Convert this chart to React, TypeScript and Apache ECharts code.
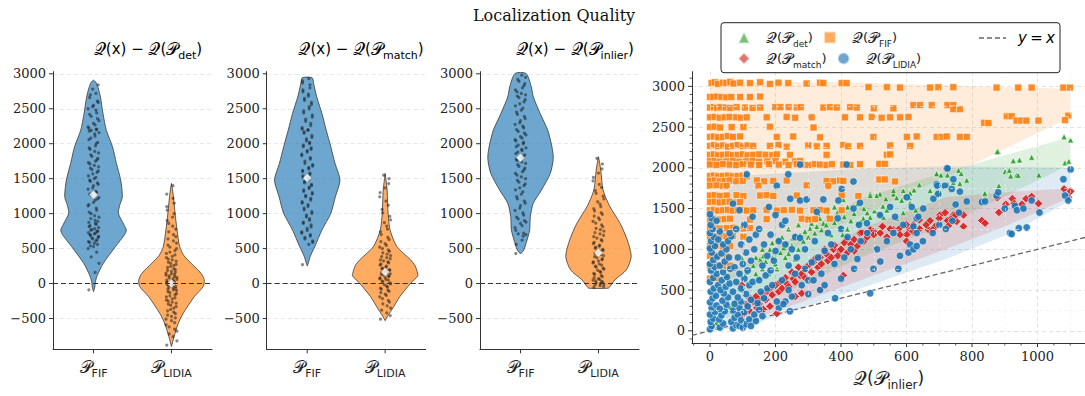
import React, { useEffect, useRef } from 'react';
import * as echarts from 'echarts';

// ---------------- data ----------------
const CATEGORIES = ['FIF', 'LIDIA'];
const CATEGORY_POS = [0, 1];
const PANEL_REFS = ['det', 'match', 'inlier'];
const VIOLIN_TICKS = [-500, 0, 500, 1000, 1500, 2000, 2500, 3000];
const SCATTER_X_TICKS = [0, 200, 400, 600, 800, 1000];
const SCATTER_Y_TICKS = [0, 500, 1000, 1500, 2000, 2500, 3000];
const SCATTER_X_MINOR = [-50, 50, 100, 150, 250, 300, 350, 450, 500, 550, 650, 700, 750, 850, 900, 950, 1050, 1100];
const SCATTER_Y_MINOR = [-100, 100, 200, 300, 400, 600, 700, 800, 900, 1100, 1200, 1300, 1400, 1600, 1700, 1800, 1900, 2100, 2200, 2300, 2400, 2600, 2700, 2800, 2900, 3100];
const SCATTER_X_MINOR_GRID = [100, 300, 500, 700, 900, 1100];
const SCATTER_Y_MINOR_GRID = [250, 750, 1250, 1750, 2250, 2750];

// violin density profiles: [value, relative density]
const P1_FIF_DENS = [[-115, 0], [-50, 0.04], [5, 0.05], [100, 0.1], [290, 0.3], [528, 0.67], [700, 0.95], [766, 1.0], [850, 0.92], [1004, 0.76], [1120, 0.8], [1242, 0.88], [1480, 0.83], [1718, 0.7], [1956, 0.58], [2195, 0.39], [2430, 0.29], [2670, 0.21], [2800, 0.14], [2880, 0.07], [2910, 0]];
const P1_LIDIA_DENS = [[-900, 0], [-757, 0.08], [-566, 0.21], [-424, 0.36], [-186, 0.7], [-43, 0.97], [52, 1.0], [148, 0.9], [290, 0.6], [400, 0.38], [528, 0.25], [766, 0.17], [1004, 0.11], [1242, 0.06], [1380, 0.02], [1433, 0]];
const P2_FIF_DENS = [[252, 0], [290, 0.03], [386, 0.09], [528, 0.23], [766, 0.45], [1004, 0.72], [1242, 0.86], [1480, 1.0], [1718, 0.85], [1956, 0.72], [2195, 0.58], [2432, 0.45], [2670, 0.29], [2850, 0.2], [2943, 0.15]];
const P2_LIDIA_DENS = [[-530, 0], [-470, 0.07], [-376, 0.2], [-186, 0.45], [5, 0.78], [110, 1.0], [148, 0.99], [250, 0.92], [338, 0.78], [528, 0.36], [766, 0.15], [1004, 0.09], [1338, 0.06], [1500, 0.02], [1575, 0]];
const P3_FIF_DENS = [[424, 0], [481, 0.1], [624, 0.2], [766, 0.28], [957, 0.3], [1147, 0.39], [1338, 0.64], [1576, 0.91], [1790, 1.0], [1956, 0.96], [2195, 0.83], [2432, 0.6], [2670, 0.39], [2813, 0.33], [3004, 0.17]];
const P3_LIDIA_DENS = [[-66, 0.3], [-43, 0.35], [52, 0.5], [195, 0.85], [386, 1.0], [624, 0.88], [862, 0.66], [1100, 0.35], [1338, 0.14], [1624, 0.07], [1814, 0]];

// strip (individual samples) values
const P1_FIF_PTS = [-90, 160, 290, 380, 450, 500, 530, 560, 590, 610, 640, 660, 690, 710, 730, 750, 770, 800, 830, 860, 890, 930, 970, 1020, 1080, 1130, 1190, 1230, 1260, 1300, 1350, 1400, 1440, 1480, 1520, 1570, 1610, 1650, 1690, 1730, 1770, 1820, 1870, 1920, 1970, 2020, 2080, 2140, 2180, 2200, 2220, 2270, 2330, 2390, 2440, 2500, 2550, 2610, 2660, 2720, 2780, 2840,
  540, 575, 600, 625, 655, 675, 700, 720, 745, 765, 785, 815, 845, 875, 905, 950, 1000, 1050, 1110, 1160, 1210, 1280, 1320, 1370, 1420, 1460, 1500, 1540, 1590, 1630, 1670, 1710, 1750, 1790, 1840, 1890, 1940, 2000, 2060, 2110, 2160, 2190, 2210, 2240, 2290, 2360, 2420, 2480, 2530, 2590, 2700];
const P1_LIDIA_PTS = [-880, -760, -680, -620, -560, -510, -470, -430, -390, -350, -310, -280, -250, -220, -190, -160, -130, -100, -80, -60, -40, -20, 0, 15, 30, 50, 70, 90, 110, 130, 150, 175, 200, 230, 260, 290, 320, 350, 390, 430, 470, 520, 580, 640, 700, 780, 860, 950, 1050, 1150, 1280, 1400,
  -820, -720, -650, -590, -530, -490, -450, -410, -370, -330, -295, -265, -235, -205, -175, -145, -115, -90, -70, -50, -30, -10, 5, 20, 40, 60, 80, 100, 120, 140, 165, 190, 215, 245, 275, 305, 340, 370, 410, 450, 500, 550, 610, 670, 740, 820, 900, 1000, 1100, 1220];
const P2_FIF_PTS = [270, 560, 610, 660, 700, 740, 790, 840, 880, 930, 980, 1030, 1080, 1130, 1170, 1220, 1260, 1300, 1340, 1380, 1420, 1460, 1500, 1540, 1580, 1620, 1660, 1700, 1750, 1800, 1850, 1900, 1940, 1980, 2020, 2070, 2120, 2170, 2200, 2210, 2260, 2320, 2380, 2440, 2500, 2560, 2620, 2680, 2740, 2800, 2870, 2930,
  590, 640, 680, 720, 760, 810, 860, 905, 955, 1005, 1055, 1105, 1150, 1195, 1240, 1280, 1320, 1360, 1400, 1440, 1480, 1520, 1560, 1600, 1640, 1680, 1720, 1780, 1830, 1880, 1920, 1960, 2000, 2040, 2090, 2150, 2190, 2230, 2290, 2350, 2410, 2470, 2530, 2590, 2650, 2710, 2770, 2840, 2900];
const P2_LIDIA_PTS = [-510, -420, -350, -290, -240, -190, -150, -110, -80, -50, -20, 10, 40, 60, 80, 100, 120, 140, 160, 180, 200, 220, 250, 280, 310, 340, 370, 400, 440, 480, 520, 570, 630, 700, 780, 870, 960, 1060, 1180, 1300, 1430, 1550,
  -460, -380, -320, -265, -215, -170, -130, -95, -65, -35, -5, 25, 50, 70, 90, 110, 130, 150, 170, 190, 210, 235, 265, 295, 325, 355, 385, 420, 460, 500, 545, 600, 660, 740, 820, 910, 1010, 1120, 1240, 1370, 1500];
const P3_FIF_PTS = [430, 620, 700, 710, 720, 800, 860, 900, 950, 1010, 1080, 1150, 1210, 1280, 1340, 1400, 1450, 1500, 1550, 1600, 1650, 1700, 1740, 1780, 1820, 1860, 1900, 1940, 1980, 2020, 2060, 2100, 2150, 2200, 2250, 2300, 2360, 2420, 2480, 2540, 2600, 2660, 2700, 2740, 2800, 2860, 2920, 2980,
  560, 680, 760, 830, 880, 925, 980, 1045, 1115, 1180, 1245, 1310, 1370, 1425, 1475, 1525, 1575, 1625, 1675, 1720, 1760, 1800, 1840, 1880, 1920, 1960, 2000, 2040, 2080, 2125, 2175, 2225, 2275, 2330, 2390, 2450, 2510, 2570, 2630, 2680, 2720, 2770, 2830, 2890, 2950];
const P3_LIDIA_PTS = [-55, -30, -10, 10, 30, 50, 70, 100, 130, 160, 190, 220, 250, 280, 310, 340, 370, 400, 430, 460, 490, 520, 550, 590, 630, 670, 710, 750, 790, 840, 890, 940, 990, 1040, 1100, 1170, 1250, 1330, 1420, 1520, 1640, 1790,
  -45, -20, 0, 20, 40, 60, 85, 115, 145, 175, 205, 235, 265, 295, 325, 355, 385, 415, 445, 475, 505, 535, 570, 610, 650, 690, 730, 770, 815, 865, 915, 965, 1015, 1070, 1135, 1210, 1290, 1375, 1470, 1580, 1710];
const MEDIANS = [[1270, 0], [1510, 165], [1800, 440]];
const JITTER = [-0.06, 0.02, 0.07, -0.03, 0.04, -0.07, 0.0, 0.05, -0.05, 0.03, -0.01, 0.06, -0.04, 0.01, -0.065, 0.045, -0.02, 0.065, -0.045, 0.025, 0.055, -0.035, 0.015, -0.055, 0.035];

// scatter: Q(P_inlier) vs Q(P_x)
const FIF_POINTS = [
  [5, 3040], [15, 3050], [25, 3030], [40, 3045], [50, 3040], [62, 3055], [72, 3035], [92, 3045], [122, 3040], [153, 3050], [183, 3030], [209, 3045], [239, 3040], [295, 3035], [336, 3045], [346, 3040], [402, 3040], [417, 3040],
  [484, 2990], [540, 2990], [580, 2985], [672, 2985], [697, 2990], [743, 2990], [875, 2985], [941, 2985], [982, 2985], [1079, 2985], [1099, 2985],
  [0, 2870], [10, 2870], [22, 2875], [35, 2870], [50, 2865], [65, 2870], [92, 2870], [122, 2870], [153, 2875],
  [0, 2740], [12, 2745], [22, 2735], [32, 2745], [48, 2740], [62, 2735], [81, 2745], [107, 2740], [130, 2735], [153, 2740], [199, 2745], [215, 2745], [240, 2745], [265, 2740], [277, 2745], [346, 2740], [366, 2745], [387, 2740], [428, 2745], [448, 2740], [500, 2730], [560, 2730], [621, 2770], [641, 2770], [677, 2770], [725, 2770], [743, 2770], [743, 2720], [763, 2720],
  [0, 2620], [15, 2625], [30, 2615], [45, 2620], [60, 2625], [80, 2620], [95, 2615], [112, 2620], [173, 2620], [234, 2625], [260, 2615], [310, 2620], [412, 2620], [458, 2620], [494, 2625], [524, 2615], [550, 2620], [580, 2620], [606, 2625], [906, 2633], [921, 2633], [1094, 2640],
  [837, 2553], [850, 2550], [936, 2580], [951, 2580], [966, 2580], [1003, 2580], [1084, 2585],
  [0, 2500], [15, 2505], [31, 2495], [66, 2500], [102, 2500], [183, 2505], [316, 2495],
  [0, 2380], [12, 2385], [25, 2375], [40, 2380], [55, 2390], [70, 2380], [92, 2385], [204, 2380], [254, 2385], [336, 2375], [499, 2380], [601, 2380], [631, 2385], [692, 2380], [707, 2380], [723, 2385], [763, 2380], [784, 2380],
  [0, 2270], [12, 2280], [25, 2265], [40, 2275], [55, 2260], [70, 2270], [85, 2280], [100, 2265], [115, 2275], [132, 2270], [183, 2270], [209, 2280], [234, 2260], [300, 2275], [326, 2265], [356, 2270], [407, 2280], [422, 2265], [458, 2270], [550, 2275], [611, 2270],
  [0, 2160], [12, 2165], [25, 2155], [40, 2160], [55, 2165], [70, 2155], [85, 2160], [100, 2165], [115, 2155], [132, 2160], [150, 2165], [170, 2160], [190, 2155], [204, 2165], [244, 2160], [356, 2160], [540, 2160], [550, 2165],
  [0, 2080], [15, 2085], [30, 2075], [50, 2080], [70, 2085], [90, 2075], [110, 2080], [130, 2085], [150, 2075], [175, 2080], [200, 2085], [230, 2075], [260, 2080], [275, 2085],
  [0, 2040], [20, 2035], [40, 2045], [60, 2040], [80, 2035], [100, 2045], [125, 2040], [150, 2035], [180, 2045], [210, 2040], [240, 2035], [265, 2045], [285, 2040], [300, 2035], [320, 2045], [336, 2040], [356, 2035], [372, 2045], [407, 2040], [428, 2035], [458, 2045], [517, 2049], [534, 2049],
  [0, 1900], [12, 1905], [25, 1895], [40, 1900], [55, 1905], [70, 1895], [85, 1900], [100, 1905], [112, 1895],
  [0, 1840], [15, 1845], [30, 1835], [45, 1840], [60, 1845], [80, 1835], [100, 1840], [143, 1845], [165, 1835], [193, 1840], [234, 1845], [356, 1840], [377, 1835], [397, 1845], [407, 1840], [517, 1857], [534, 1857], [565, 1833],
  [0, 1780], [20, 1785], [40, 1775], [51, 1780], [148, 1780], [295, 1785], [361, 1775],
  [0, 1660], [15, 1665], [30, 1655], [51, 1660], [81, 1665], [102, 1655], [153, 1660], [173, 1665], [193, 1655], [265, 1660], [402, 1665], [453, 1655],
  [0, 1580], [15, 1585], [30, 1575], [45, 1580], [60, 1585], [81, 1575], [92, 1580],
  [0, 1480], [12, 1485], [25, 1475], [40, 1480], [55, 1485], [70, 1475], [85, 1480], [100, 1485], [112, 1475], [132, 1480], [173, 1485], [204, 1475], [225, 1480], [250, 1485], [275, 1475], [316, 1480], [336, 1485], [356, 1475], [402, 1480],
  [0, 1370], [15, 1375], [30, 1365], [45, 1370], [61, 1375], [122, 1365], [173, 1370], [280, 1375], [300, 1365], [321, 1370], [366, 1375],
  [0, 1260], [15, 1265], [30, 1255], [51, 1260], [71, 1265], [102, 1255], [122, 1260],
  [0, 1160], [15, 1165], [30, 1155], [50, 1160], [70, 1165], [102, 1155],
  [0, 1040], [20, 1045], [40, 1035], [61, 1040], [0, 920], [20, 925], [51, 915], [0, 800], [20, 805], [41, 795], [61, 800], [0, 640], [20, 645],
];

const LIDIA_POINTS = [
  [0, 20], [5, 60], [2, 110], [10, 150], [0, 200], [15, 230], [5, 280], [20, 310], [0, 350], [8, 400], [18, 430], [2, 480], [12, 520], [25, 560], [0, 600], [10, 650], [20, 700], [3, 740], [15, 780], [0, 820], [10, 870], [22, 910], [5, 960], [0, 1010], [15, 1040], [3, 1100], [12, 1150], [0, 1200], [8, 1250], [2, 1300], [5, 1380], [0, 1430], [20, 1350], [30, 1220],
  [30, 40], [40, 90], [28, 140], [35, 190], [45, 240], [30, 270], [50, 320], [38, 370], [55, 410], [42, 460], [32, 500], [48, 540], [60, 580], [36, 620], [52, 660], [40, 720], [62, 760], [30, 800], [45, 850], [58, 900], [35, 950], [50, 1000], [40, 1060], [25, 1120], [55, 1100], [65, 1160],
  [70, 30], [80, 70], [65, 110], [90, 60], [75, 160], [100, 40], [85, 200], [95, 130], [110, 80], [70, 250], [90, 280], [105, 230], [120, 140], [75, 330], [95, 360], [115, 300], [85, 410], [110, 450], [125, 380], [70, 480], [95, 520], [120, 560], [80, 600], [105, 640], [130, 600], [90, 700], [115, 740], [75, 780], [100, 820], [125, 860], [85, 900], [110, 960], [135, 1000], [95, 1060], [120, 1120], [140, 1180], [80, 1250], [105, 1300], [112, 1920], [60, 1200], [90, 1480], [70, 1560], [130, 1400],
  [125, 60], [140, 120], [135, 200], [150, 260], [160, 180], [145, 340], [165, 400], [155, 480], [175, 520], [150, 620], [170, 680], [190, 560], [185, 740], [160, 800], [195, 860], [175, 920], [200, 980], [165, 1060], [210, 1100], [185, 1180], [150, 1250], [220, 1300], [200, 1420], [230, 1350], [204, 1780], [239, 1920], [245, 1620], [180, 1520],
  [210, 280], [230, 360], [244, 240], [224, 328], [204, 360], [250, 420], [240, 500], [220, 620], [260, 700], [240, 800], [265, 900], [250, 1000], [230, 1060], [260, 1150],
  [275, 1140], [275, 1600], [295, 1612], [275, 2040], [326, 1460], [346, 1612], [392, 1600], [402, 1740], [417, 2040], [438, 1832], [438, 1500], [458, 1572], [455, 1300], [479, 1320], [280, 560], [300, 620], [316, 620], [336, 500], [382, 400], [290, 760], [310, 840], [330, 900], [350, 980], [370, 1060], [290, 1000], [320, 1100], [360, 1200], [400, 1250], [340, 700], [380, 820], [410, 900], [430, 1000], [300, 450], [350, 560], [400, 640], [440, 760], [420, 1150], [390, 1380], [460, 1100], [480, 1200], [450, 880],
  [489, 460], [499, 760], [519, 1420], [550, 1520], [565, 1400], [575, 760], [580, 920], [601, 1640], [606, 960], [611, 1060], [616, 1520], [621, 1280], [621, 1000], [631, 1380], [631, 1200], [631, 1040], [636, 1400], [651, 1500], [682, 1620], [692, 1800], [697, 1680], [717, 1780], [723, 1992], [738, 1740], [743, 1860], [763, 1708], [784, 1588], [510, 1000], [540, 1100], [560, 1200], [590, 1300], [520, 850], [650, 1100], [700, 1300], [720, 1250], [740, 1350], [760, 1450], [680, 1200], [750, 1550], [725, 1993], [694, 1781],
  [830, 1580], [840, 1588], [875, 1660], [916, 1200], [921, 1188], [931, 1532], [937, 1480], [943, 1260], [957, 1500], [967, 1268], [982, 1600], [1006, 1452], [1079, 1860], [1084, 1660], [1094, 1600], [1101, 1980], [880, 1700], [900, 1500],
];

const DET_POINTS = [
  [51, 680], [97, 900], [112, 720], [132, 800], [153, 880], [163, 920], [183, 1000], [209, 1120], [234, 1080], [254, 1140], [275, 1180], [305, 1260], [326, 1280], [346, 1320], [377, 1380], [407, 1612], [489, 1688], [519, 1680], [560, 1680], [611, 1700], [692, 1920], [880, 2200], [901, 1960], [840, 1680],
  [877, 2200], [926, 2088], [945, 2097], [982, 2130], [1081, 2382], [1101, 2341], [1084, 2061], [1096, 2081], [901, 1953], [914, 1969], [936, 1909], [941, 1909], [918, 1901], [1004, 1913], [882, 1781], [839, 1689], [692, 1929], [705, 1913], [725, 1913], [759, 1969], [767, 1929], [784, 1849], [743, 1821], [763, 1809], [726, 1801], [639, 1793], [623, 1729], [672, 1721], [690, 1701], [611, 1689], [590, 1721], [560, 1721], [593, 1649], [570, 1633], [609, 1633], [611, 1569], [585, 1601], [537, 1621], [509, 1661], [489, 1661], [528, 1529], [502, 1473], [519, 1441], [540, 1481], [480, 1449], [468, 1381], [461, 1341], [489, 1393], [530, 1393], [628, 1481], [590, 1449], [570, 1381],
  [120, 600], [140, 700], [160, 760], [170, 850], [190, 900], [200, 820], [215, 960], [225, 1020], [240, 950], [250, 1050], [260, 1180], [270, 1000], [285, 1100], [290, 1220], [300, 1150], [310, 1320], [320, 1200], [335, 1380], [340, 1240], [355, 1300], [360, 1420], [370, 1180], [380, 1330], [390, 1460], [400, 1280], [410, 1400], [420, 1520], [430, 1350], [440, 1440], [450, 1560], [380, 1520], [360, 1500], [330, 1440], [300, 1400], [270, 1300], [240, 1250], [220, 1150], [190, 1080], [160, 1000], [140, 900], [420, 1250], [450, 1320], [470, 1500], [405, 1180], [260, 880], [230, 900], [205, 760], [180, 700], [150, 650], [100, 500], [80, 380], [60, 300], [20, 100], [40, 250],
];

const MATCH_POINTS = [
  [97, 560], [122, 400], [132, 360], [143, 280], [153, 400], [163, 260], [173, 480], [183, 520], [183, 300], [204, 212], [214, 600], [234, 580], [254, 640], [275, 680], [295, 760], [316, 840], [336, 900], [336, 500], [356, 940], [377, 1000], [397, 980], [407, 680], [417, 1120], [458, 1200], [489, 1240], [524, 1280], [672, 1352], [743, 1420],
  [877, 1633], [882, 1453], [903, 1553], [923, 1621], [929, 1561], [952, 1553], [965, 1621], [982, 1649], [1003, 1561], [1081, 1741], [1101, 1713], [1094, 1640], [830, 1353], [840, 1321], [702, 1421], [718, 1449], [725, 1353], [738, 1381], [763, 1449], [774, 1421], [753, 1341], [728, 1289], [687, 1281], [667, 1241], [639, 1361], [621, 1301], [611, 1241], [601, 1181], [560, 1241], [578, 1253], [527, 1281], [499, 1221], [480, 1201], [463, 1209], [774, 1281],
  [100, 200], [110, 320], [120, 250], [140, 420], [150, 330], [160, 450], [170, 380], [190, 440], [200, 560], [210, 480], [220, 520], [230, 650], [240, 540], [250, 720], [260, 600], [270, 780], [280, 700], [290, 650], [300, 800], [310, 720], [320, 880], [330, 780], [340, 820], [350, 1000], [360, 860], [370, 900], [380, 1050], [390, 920], [400, 1000], [410, 1080], [420, 960], [430, 1060], [440, 1120], [450, 1040], [470, 1100], [480, 1150], [500, 1180], [520, 1200], [540, 1150], [550, 1250], [580, 1180], [600, 1300], [620, 1220], [640, 1250], [660, 1300], [680, 1240], [700, 1380], [600, 1100], [440, 980], [280, 460], [260, 420], [750, 1420],
];

// envelope bands: x, lower, upper
const BAND_FIF_X = [0, 400, 800, 1100];
const BAND_FIF_LOW = [500, 1300, 2040, 2620];
const BAND_FIF_HIGH = [3055, 3055, 3000, 2970];
const BAND_LIDIA_X = [0, 100, 120, 460, 720, 920, 1100];
const BAND_LIDIA_LOW = [0, 30, 60, 520, 880, 1200, 1600];
const BAND_LIDIA_HIGH = [1500, 1900, 1910, 1990, 2020, 2010, 2000];
const BAND_DET_X = [50, 300, 460, 720, 1100];
const BAND_DET_LOW = [150, 600, 900, 1300, 2040];
const BAND_DET_HIGH = [700, 1250, 1620, 1950, 2380];
const BAND_MATCH_X = [100, 300, 460, 720, 900, 1100];
const BAND_MATCH_LOW = [100, 380, 620, 1000, 1280, 1640];
const BAND_MATCH_HIGH = [350, 850, 1250, 1640, 1700, 1750];
const IDENTITY_LINE = [[-55, -55], [1145, 1145]];

// ---------------- styling ----------------
const Q = '\u{1D4AC}';
const P = '\u{1D4AB}';
const SERIF = 'DejaVu Serif';
const SANS = 'DejaVu Sans';
const INK = '#222';
const BLUE = '#1f77b4';
const ORANGE = '#ff7f0e';
const GREEN = '#2ca02c';
const RED = '#d62728';

const mathRich = (base: number) => ({
  q: { fontFamily: SANS, fontSize: base + 2, lineHeight: base + 9, color: INK },
  t: { fontFamily: SANS, fontSize: base, lineHeight: base + 9, color: INK },
  s: { fontFamily: SANS, fontSize: Math.round(base * 0.72), lineHeight: base + 9, verticalAlign: 'bottom', color: INK },
  i: { fontFamily: SANS, fontStyle: 'italic', fontSize: base, lineHeight: base + 9, color: INK },
  sp: { width: 11 },
});
const qp = (sub: string) => `{q|${Q}}{t|(}{q|${P}}{s|${sub}}{t|)}`;
const numLabel = (v: number) => (v < 0 ? '\u2212' + Math.abs(v) : String(v));
const numLabelStyle = { fontFamily: SERIF, fontSize: 13, color: INK, showMinLabel: false, showMaxLabel: false, formatter: numLabel };
const splitStyle = (color: string) => ({ show: true, showMinLine: false, showMaxLine: false, lineStyle: { color, type: [4, 3], width: 0.8 } });

const V_LEFT = [53, 266.7, 480];
const V_W = 159;
const TOP = 71.7;
const H = 277.6;
const TITLE_CX = [148, 361, 575];
const HALF = 0.42;

function violinSeries(idx: number, cat: number, dens: number[][], color: string) {
  return {
    type: 'custom', xAxisIndex: idx, yAxisIndex: idx, silent: true, z: 2,
    data: [[cat, 0]],
    renderItem: (_p: any, api: any) => {
      const left = dens.map(([y, d]) => api.coord([cat - d * HALF, y]));
      const right = dens.slice().reverse().map(([y, d]) => api.coord([cat + d * HALF, y]));
      return {
        type: 'polygon',
        shape: { points: left.concat(right), smooth: 0.25 },
        style: { fill: color, stroke: '#3a3a3a', lineWidth: 0.8 },
      };
    },
  };
}

function stripSeries(idx: number, cat: number, pts: number[]) {
  return {
    type: 'scatter', xAxisIndex: idx, yAxisIndex: idx, silent: true, z: 3,
    symbolSize: 3.2,
    itemStyle: { color: '#111', opacity: 0.5 },
    data: pts.map((y, i) => [cat + JITTER[i % JITTER.length], y]),
  };
}

function bandSeries(xs: number[], lo: number[], hi: number[], color: string) {
  return {
    type: 'custom', xAxisIndex: 3, yAxisIndex: 3, silent: true, z: 1,
    data: [[xs[0], lo[0]]],
    renderItem: (_p: any, api: any) => {
      const a = xs.map((x, i) => api.coord([x, lo[i]]));
      const b = xs.map((x, i) => api.coord([x, hi[i]])).reverse();
      return { type: 'polygon', shape: { points: a.concat(b) }, style: { fill: color, opacity: 0.15 } };
    },
  };
}

// axis tick marks drawn through the axis scale
function tickSeries(idx: number, dir: 'x' | 'y', values: number[], at: number, len: number, width: number) {
  return {
    type: 'custom', xAxisIndex: idx, yAxisIndex: idx, silent: true, clip: false, z: 5,
    data: values.map((v) => (dir === 'x' ? [v, at] : [at, v])),
    renderItem: (_p: any, api: any) => {
      const c = api.coord([api.value(0), api.value(1)]);
      const shape = dir === 'x'
        ? { x1: c[0], y1: c[1], x2: c[0], y2: c[1] + len }
        : { x1: c[0] - len, y1: c[1], x2: c[0], y2: c[1] };
      return { type: 'line', shape, style: { stroke: '#333', lineWidth: width } };
    },
  };
}

export default function App() {
  const ref = useRef<HTMLDivElement>(null);
  useEffect(() => {
    if (!ref.current) return;
    const chart = echarts.init(ref.current, null, { renderer: 'svg' });

    const grids = [
      ...V_LEFT.map((l) => ({ left: l, top: TOP, width: V_W, height: H })),
      { left: 692, top: TOP, width: 393, height: H },
    ];
    const axisLine = { show: true, onZero: false, lineStyle: { color: '#333', width: 1 } };

    const xAxes: any[] = V_LEFT.map((_, i) => ({
      type: 'value', gridIndex: i, min: -0.52, max: 1.52, splitNumber: 2,
      axisLine,
      axisTick: { show: false },
      axisLabel: {
        margin: 6, showMinLabel: false, showMaxLabel: false,
        formatter: (v: number) => `{q|${P}}{s|${CATEGORIES[Math.round(v)]}}`,
        rich: mathRich(15),
      },
      splitLine: { show: false },
    }));
    xAxes.push({
      type: 'value', gridIndex: 3, min: -55, max: 1145, splitNumber: 6,
      axisLine,
      axisTick: { show: false },
      axisLabel: { ...numLabelStyle, margin: 7 },
      splitLine: splitStyle('#dcdcdc'),
      name: qp('inlier'), nameLocation: 'middle', nameGap: 22,
      nameTextStyle: { rich: mathRich(17) },
    });
    const yAxes: any[] = V_LEFT.map((_, i) => ({
      type: 'value', gridIndex: i, min: -940, max: 3030, splitNumber: 8,
      axisLine,
      axisTick: { show: false },
      axisLabel: { ...numLabelStyle, margin: 7 },
      splitLine: splitStyle('#e2e2e2'),
    }));
    yAxes.push({
      type: 'value', gridIndex: 3, min: -150, max: 3180, splitNumber: 7,
      axisLine,
      axisTick: { show: false },
      axisLabel: { ...numLabelStyle, margin: 7 },
      splitLine: splitStyle('#dcdcdc'),
    });

    const series: any[] = [];
    const dens = [[P1_FIF_DENS, P1_LIDIA_DENS], [P2_FIF_DENS, P2_LIDIA_DENS], [P3_FIF_DENS, P3_LIDIA_DENS]];
    const pts = [[P1_FIF_PTS, P1_LIDIA_PTS], [P2_FIF_PTS, P2_LIDIA_PTS], [P3_FIF_PTS, P3_LIDIA_PTS]];
    for (let i = 0; i < 3; i++) {
      series.push(violinSeries(i, 0, dens[i][0], 'rgba(31,119,180,0.65)'));
      series.push(violinSeries(i, 1, dens[i][1], 'rgba(255,127,14,0.65)'));
      series.push(stripSeries(i, 0, pts[i][0]));
      series.push(stripSeries(i, 1, pts[i][1]));
      series.push({
        type: 'scatter', xAxisIndex: i, yAxisIndex: i, silent: true, z: 4,
        symbol: 'diamond', symbolSize: 9,
        itemStyle: { color: '#fff', borderColor: '#555', borderWidth: 0.5 },
        data: MEDIANS[i].map((m, c) => [c, m]),
        markLine: {
          silent: true, symbol: ['none', 'none'], label: { show: false },
          lineStyle: { color: '#333', type: [5, 3], width: 1 },
          data: [{ yAxis: 0 }],
        },
      });
      series.push(tickSeries(i, 'x', CATEGORY_POS, -940, 4, 1));
      series.push(tickSeries(i, 'y', VIOLIN_TICKS, -0.52, 4, 1));
    }

    // scatter panel ticks, minor ticks and minor grid
    series.push(tickSeries(3, 'x', SCATTER_X_TICKS, -150, 4, 1));
    series.push(tickSeries(3, 'y', SCATTER_Y_TICKS, -55, 4, 1));
    series.push({
      ...tickSeries(3, 'x', SCATTER_X_MINOR, -150, 2.5, 0.8),
      markLine: {
        silent: true, symbol: ['none', 'none'], label: { show: false },
        lineStyle: { color: '#efefef', type: [3, 3], width: 0.6 },
        data: SCATTER_X_MINOR_GRID.map((v) => ({ xAxis: v })).concat(SCATTER_Y_MINOR_GRID.map((v) => ({ yAxis: v }) as any)),
      },
    });
    series.push(tickSeries(3, 'y', SCATTER_Y_MINOR, -55, 2.5, 0.8));

    series.push(bandSeries(BAND_FIF_X, BAND_FIF_LOW, BAND_FIF_HIGH, ORANGE));
    series.push(bandSeries(BAND_LIDIA_X, BAND_LIDIA_LOW, BAND_LIDIA_HIGH, BLUE));
    series.push(bandSeries(BAND_DET_X, BAND_DET_LOW, BAND_DET_HIGH, GREEN));
    series.push(bandSeries(BAND_MATCH_X, BAND_MATCH_LOW, BAND_MATCH_HIGH, RED));

    series.push({
      name: 'y=x', type: 'line', xAxisIndex: 3, yAxisIndex: 3, silent: true, z: 2,
      symbol: 'none', data: IDENTITY_LINE,
      lineStyle: { color: '#666', type: [5, 3], width: 1.3 },
    });
    const pointStyle = (color: string, op: number) => ({ color, opacity: op, borderColor: '#fff', borderWidth: 0.6 });
    series.push({ name: 'det', type: 'scatter', xAxisIndex: 3, yAxisIndex: 3, silent: true, z: 3, symbol: 'triangle', symbolSize: 6, itemStyle: pointStyle(GREEN, 0.95), data: DET_POINTS });
    series.push({ name: 'match', type: 'scatter', xAxisIndex: 3, yAxisIndex: 3, silent: true, z: 3, symbol: 'diamond', symbolSize: 8.5, itemStyle: pointStyle(RED, 0.95), data: MATCH_POINTS });
    series.push({ name: 'FIF', type: 'scatter', xAxisIndex: 3, yAxisIndex: 3, silent: true, z: 3, symbol: 'rect', symbolSize: 7, itemStyle: pointStyle(ORANGE, 0.9), data: FIF_POINTS });
    series.push({ name: 'LIDIA', type: 'scatter', xAxisIndex: 3, yAxisIndex: 3, silent: true, z: 3, symbol: 'circle', symbolSize: 7.5, itemStyle: pointStyle(BLUE, 0.9), data: LIDIA_POINTS });

    const legendBase = {
      orient: 'horizontal', selectedMode: false, padding: 0, z: 20,
      itemWidth: 12, itemHeight: 12, itemGap: 10,
      formatter: (name: string) => `{sp|}${qp(name)}`,
      textStyle: { width: 100, rich: mathRich(13) },
    };
    const legendItem = (name: string) => ({ name, itemStyle: { opacity: 0.65 } });

    const option: any = {
      animation: false,
      backgroundColor: '#fff',
      grid: grids,
      xAxis: xAxes,
      yAxis: yAxes,
      series,
      legend: [
        { ...legendBase, left: 737, top: 30, data: [legendItem('det'), legendItem('FIF')] },
        { ...legendBase, left: 737, top: 51, data: [legendItem('match'), legendItem('LIDIA')] },
      ],
      graphic: [
        {
          type: 'rect', z: 10, silent: true,
          shape: { x: 721, y: 22.7, width: 339, height: 50, r: 3 },
          style: { fill: 'rgba(255,255,255,0.85)', stroke: '#222', lineWidth: 1 },
        },
        {
          type: 'line', z: 11, silent: true,
          shape: { x1: 979, y1: 38, x2: 1006, y2: 38 },
          style: { stroke: '#666', lineWidth: 1.3, lineDash: [5, 3] },
        },
        {
          type: 'text', z: 11, silent: true, x: 1018, y: 38,
          style: { text: '{i|y} {t|=} {i|x}', rich: mathRich(15), align: 'left', verticalAlign: 'middle' },
        },
        {
          type: 'text', z: 10, silent: true, x: 554, y: 15,
          style: { text: 'Localization Quality', font: '16px "DejaVu Serif"', fill: '#111', align: 'center', verticalAlign: 'middle' },
        },
        ...TITLE_CX.map((cx, i) => ({
          type: 'text', z: 10, silent: true, x: cx, y: 49,
          style: {
            text: `{q|${Q}}{t|(x) \u2212 }${qp(PANEL_REFS[i])}`,
            rich: mathRich(15), align: 'center', verticalAlign: 'middle',
          },
        })),
      ],
    };
    chart.setOption(option);
    return () => chart.dispose();
  }, []);

  return <div ref={ref} style={{ position: 'absolute', left: 0, top: 0, width: 1085, height: 396 }} />;
}
